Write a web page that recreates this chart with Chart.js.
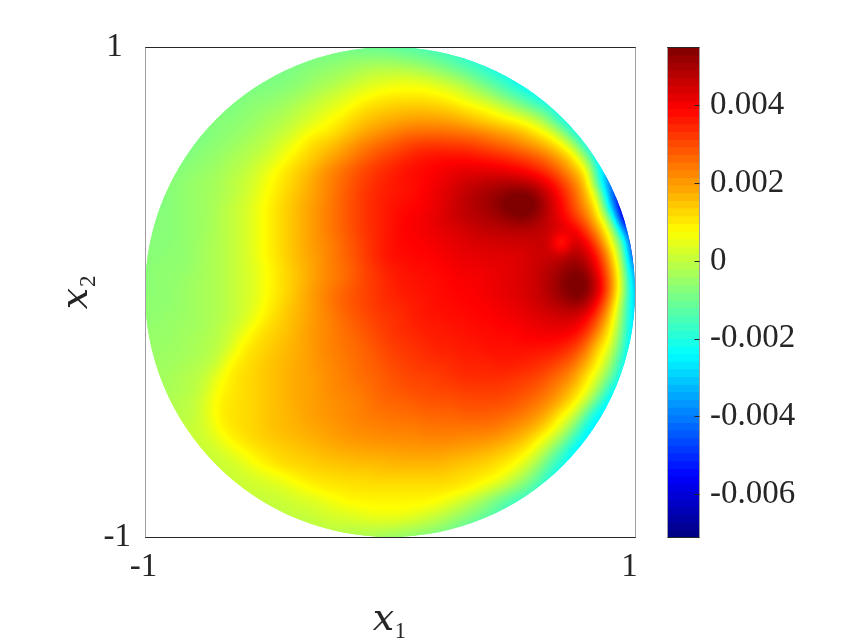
<!DOCTYPE html>
<html>
<head>
<meta charset="utf-8">
<script src="https://cdn.jsdelivr.net/npm/chart.js@4"></script>
<style>
  html, body { margin: 0; background: #fff; }
  canvas { position: absolute; top: 0; display: block; }
</style>
</head>
<body>
<canvas id="field" width="650" height="644" style="left:0"></canvas>
<canvas id="bar" width="209" height="644" style="left:650px"></canvas>
<script>
// values, unit 1e-4. each row is centred on x1 = 0, spacing 0.05
var row_p100 = [-9,-9,-9,-10,-10,-11,-11,-12,-13,-14,-15,-16,-17,-18,-19];
var row_p095 = [-9,-9,-9,-8,-8,-7,-6,-6,-6,-6,-7,-8,-10,-12,-14,-17,-19,-21,-23];
var row_p090 = [-9,-9,-9,-8,-7,-6,-5,-4,-3,-1,0,0,0,-1,-3,-5,-8,-11,-14,-18,-21,-23,-24];
var row_p085 = [-9,-9,-8,-8,-7,-6,-4,-3,-1,1,3,4,5,6,6,5,3,1,-2,-7,-11,-15,-20,-24,-26];
var row_p080 = [-9,-9,-8,-7,-7,-6,-5,-3,-1,1,3,5,7,9,10,10,10,10,9,7,4,1,-3,-8,-12,-17,-22,-25,-27];
var row_p075 = [-9,-8,-8,-7,-6,-5,-4,-2,0,2,4,6,9,12,13,14,15,15,15,14,13,11,9,7,3,-2,-7,-12,-18,-23,-26];
var row_p070 = [-9,-8,-7,-7,-6,-5,-3,-2,0,2,4,8,10,13,15,17,18,19,20,20,20,19,17,15,13,11,9,6,1,-8,-20,-24,-26];
var row_p065 = [-9,-8,-7,-6,-5,-3,-2,0,2,6,9,10,13,16,19,21,23,25,26,26,26,26,25,24,22,20,18,15,11,6,-4,-20,-26];
var row_p060 = [-9,-8,-7,-6,-5,-3,-2,0,3,6,10,13,15,18,21,24,26,28,30,32,33,33,32,32,31,29,27,25,22,19,15,9,-2,-22,-28];
var row_p055 = [-8,-8,-7,-6,-5,-3,-2,0,2,5,9,12,15,18,21,24,27,30,32,34,36,37,38,38,38,37,36,35,33,31,28,24,18,11,-6,-28,-32];
var row_p050 = [-8,-7,-6,-5,-4,-2,-1,2,5,9,12,15,18,22,25,28,31,33,35,37,38,39,40,41,42,42,42,41,40,38,35,31,25,17,9,-22,-38];
var row_p045 = [-8,-7,-6,-5,-4,-3,-1,1,3,7,10,13,16,20,23,26,29,32,34,36,37,38,39,41,43,45,46,47,48,48,47,44,39,32,24,14,-16,-45,-50];
var row_p040 = [-8,-7,-6,-5,-4,-3,-1,1,4,8,11,14,17,20,23,27,30,33,35,36,37,38,40,42,44,47,49,51,53,55,56,52,45,37,28,17,0,-40,-62];
var row_p035 = [-8,-8,-7,-6,-5,-4,-2,0,2,5,9,12,15,18,21,24,27,30,33,35,37,38,39,40,42,45,47,49,51,54,58,59,55,47,39,30,20,8,-30,-65,-74];
var row_p030 = [-8,-7,-7,-6,-5,-4,-2,0,2,5,9,12,15,18,21,24,27,30,33,35,37,39,40,41,43,45,47,48,49,51,53,54,51,46,41,34,26,12,-8,-60,-74];
var row_p025 = [-8,-7,-7,-6,-5,-4,-2,0,2,5,9,12,15,18,21,24,27,30,33,35,37,39,40,41,42,43,44,46,47,47,48,48,47,46,44,42,33,20,4,-32,-68];
var row_p020 = [-7,-7,-7,-6,-5,-3,-2,0,2,5,9,12,15,18,21,23,26,29,32,35,37,39,39,40,41,42,43,44,44,45,45,45,46,46,28,47,41,28,9,-12,-60];
var row_p015 = [-7,-7,-6,-6,-5,-3,-2,0,2,5,9,12,15,18,20,23,26,29,32,35,38,38,39,39,40,41,42,42,43,43,43,44,45,46,46,50,46,36,17,-8,-54];
var row_p010 = [-7,-6,-6,-6,-5,-3,-2,0,2,4,8,11,14,17,20,23,25,28,31,34,36,37,38,38,39,40,41,41,42,42,43,44,46,48,51,54,51,39,22,-2,-44];
var row_p005 = [-7,-6,-6,-5,-4,-3,-2,0,2,4,8,11,14,17,20,23,25,28,31,33,35,37,37,38,38,39,40,40,41,42,43,44,46,49,53,57,56,44,25,0,-38];
var row_000 = [-7,-6,-6,-5,-4,-3,-2,0,2,4,8,11,14,18,21,24,27,29,31,33,35,36,37,37,38,39,39,40,41,42,43,44,46,49,53,57,56,44,25,0,-35];
var row_m005 = [-6,-6,-6,-5,-4,-3,-2,0,2,4,9,12,15,18,21,24,27,29,31,33,34,35,36,37,38,38,39,39,40,41,42,43,45,47,49,52,49,37,20,-6,-33];
var row_m010 = [-6,-6,-5,-5,-4,-3,-2,0,2,6,10,13,16,18,21,23,26,28,30,32,33,34,36,37,37,38,38,39,39,40,41,42,43,44,45,45,41,31,14,-8,-32];
var row_m015 = [-6,-5,-5,-4,-4,-3,-1,1,4,9,12,14,16,19,21,23,25,27,29,31,33,34,35,36,36,37,37,38,38,39,39,40,41,42,42,41,36,24,10,-11,-31];
var row_m020 = [-5,-5,-5,-4,-3,-2,-1,2,8,11,13,15,17,19,21,23,25,26,28,30,32,33,34,35,36,36,37,37,38,38,38,39,39,39,38,36,29,17,6,-14,-30];
var row_m025 = [-5,-5,-4,-4,-3,-2,0,5,10,12,14,16,17,19,21,23,24,26,27,29,31,32,33,34,35,35,36,36,37,37,37,37,36,36,34,30,23,11,1,-18,-30];
var row_m030 = [-4,-4,-4,-3,-2,-1,2,9,11,13,15,16,18,19,21,22,24,25,27,28,30,31,32,33,33,34,35,35,35,36,36,35,34,32,29,25,17,8,-5,-22,-29];
var row_m035 = [-4,-4,-3,-2,-1,1,6,10,12,13,15,16,18,19,20,22,23,25,26,27,29,30,31,31,32,33,34,34,34,34,33,32,31,28,25,20,11,2,-11,-25,-28];
var row_m040 = [-3,-3,-2,-1,2,8,10,12,13,15,16,18,19,20,22,23,24,25,27,28,29,30,30,31,31,32,32,32,32,31,30,28,25,21,15,8,-4,-22,-28];
var row_m045 = [-3,-2,-1,0,4,9,11,12,13,15,16,18,19,20,21,22,23,24,26,27,27,28,29,29,29,30,30,30,30,29,27,25,22,17,10,0,-15,-27,-28];
var row_m050 = [-2,-1,0,4,9,11,12,13,15,16,17,19,20,21,22,23,24,25,25,26,26,27,27,27,28,28,28,27,26,24,21,17,9,3,-12,-26,-28];
var row_m055 = [-1,0,1,3,8,11,12,13,15,16,17,18,19,20,21,22,23,23,24,24,24,25,25,25,25,25,25,24,22,20,17,11,4,-7,-22,-28,-28];
var row_m060 = [1,1,2,5,9,11,13,14,15,16,17,18,19,20,21,21,22,22,22,22,23,23,23,22,22,21,20,18,15,10,4,-5,-17,-26,-28];
var row_m065 = [1,1,2,5,8,10,12,13,14,15,16,17,18,18,19,19,19,20,20,20,20,19,19,18,17,15,13,10,4,-5,-15,-25,-28];
var row_m070 = [1,1,1,2,4,8,10,12,13,13,14,15,15,16,16,16,17,17,17,17,17,16,15,14,13,11,9,4,-3,-13,-20,-26,-28];
var row_m075 = [1,1,1,2,3,5,7,9,11,12,12,13,13,13,14,14,14,14,14,14,13,12,11,10,8,3,-3,-10,-18,-24,-26];
var row_m080 = [0,1,1,2,2,3,5,7,9,10,10,11,11,11,11,11,11,11,11,11,10,8,4,0,-5,-10,-16,-21,-24];
var row_m085 = [0,0,1,1,2,3,4,6,8,9,9,9,9,9,9,9,8,5,2,-2,-6,-11,-15,-18,-21];
var row_m090 = [-1,-1,0,1,1,2,3,4,5,6,7,7,7,6,4,2,-1,-4,-7,-11,-14,-17,-19];
var row_m095 = [-2,-1,-1,0,1,1,1,2,2,2,1,0,-2,-4,-7,-10,-13,-15,-17];
var row_m100 = [-2,-2,-2,-2,-3,-3,-4,-5,-6,-7,-8,-10,-12,-13,-15];

var fieldRows = [
  row_p100, row_p095, row_p090, row_p085, row_p080, row_p075, row_p070, row_p065, row_p060, row_p055, row_p050,
  row_p045, row_p040, row_p035, row_p030, row_p025, row_p020, row_p015, row_p010, row_p005, row_000,
  row_m005, row_m010, row_m015, row_m020, row_m025, row_m030, row_m035, row_m040, row_m045, row_m050,
  row_m055, row_m060, row_m065, row_m070, row_m075, row_m080, row_m085, row_m090, row_m095, row_m100
];
var fieldUnit = 1e-4;
var cellStep = 0.05;

var colorMin = -0.0071;
var colorMax = 0.0055;
var barTicks = [-0.006, -0.004, -0.002, 0, 0.002, 0.004];
var barTickLabels = ['-0.006', '-0.004', '-0.002', '0', '0.002', '0.004'];
var axisTicks = [-1, 1];
var xTickLabels = ['-1', '1 '];
var yTickLabels = ['-1', '1 '];

var serif = "'Liberation Serif', 'DejaVu Serif', serif";
var inkColor = '#262626';

function jet(t) {
  t = Math.max(0, Math.min(1, t));
  function ch(c) { return Math.round(255 * Math.max(0, Math.min(1, 1.5 - Math.abs(4 * t - c)))); }
  return [ch(3), ch(2), ch(1)];
}
function valueColor(v) {
  var c = jet((v - colorMin) / (colorMax - colorMin));
  return 'rgb(' + c[0] + ',' + c[1] + ',' + c[2] + ')';
}

// one point per read value
var cellPoints = [];
fieldRows.forEach(function (row, j) {
  var half = (row.length - 1) / 2;
  row.forEach(function (v, i) {
    cellPoints.push({ x: (i - half) * cellStep, y: 1 - j * cellStep, v: v * fieldUnit });
  });
});

function cellAt(i, j) {
  j = Math.max(0, Math.min(fieldRows.length - 1, j));
  var row = fieldRows[j];
  var half = (row.length - 1) / 2;
  var k = Math.max(-half, Math.min(half, i)) + half;
  return row[k];
}
// cubic b-spline, evens out the rounding in the read values
function spline(a, b, c, d, t) {
  var t2 = t * t, t3 = t2 * t, u = 1 - t;
  return (u * u * u * a + (3 * t3 - 6 * t2 + 4) * b + (-3 * t3 + 3 * t2 + 3 * t + 1) * c + t3 * d) / 6;
}
// shade between the cells like shading interp does
function shadeAt(x, y) {
  var gx = x / cellStep, gy = (1 - y) / cellStep;
  var i = Math.floor(gx), j = Math.floor(gy);
  var tx = gx - i, ty = gy - j;
  var rows = [];
  for (var m = -1; m <= 2; m++) {
    rows.push(spline(cellAt(i - 1, j + m), cellAt(i, j + m), cellAt(i + 1, j + m), cellAt(i + 2, j + m), tx));
  }
  return spline(rows[0], rows[1], rows[2], rows[3], ty) * fieldUnit;
}

function discPath(chart, ctx) {
  var xs = chart.scales.x, ys = chart.scales.y;
  var cx = xs.getPixelForValue(0), cy = ys.getPixelForValue(0);
  ctx.beginPath();
  ctx.arc(cx, cy, xs.getPixelForValue(1) - cx, 0, Math.PI * 2);
}

var discShader = {
  id: 'discShader',
  beforeDatasetsDraw: function (chart) {
    chart.ctx.save();
    discPath(chart, chart.ctx);
    chart.ctx.clip();
  },
  afterDatasetsDraw: function (chart) {
    var ctx = chart.ctx, area = chart.chartArea;
    var xs = chart.scales.x, ys = chart.scales.y;
    var w = Math.round(area.right - area.left), h = Math.round(area.bottom - area.top);
    var off = document.createElement('canvas');
    off.width = w; off.height = h;
    var octx = off.getContext('2d');
    var img = octx.createImageData(w, h);
    for (var py = 0; py < h; py++) {
      var y = ys.getValueForPixel(area.top + py + 0.5);
      for (var px = 0; px < w; px++) {
        var x = xs.getValueForPixel(area.left + px + 0.5);
        var c = jet((shadeAt(x, y) - colorMin) / (colorMax - colorMin));
        var o = (py * w + px) * 4;
        img.data[o] = c[0]; img.data[o + 1] = c[1]; img.data[o + 2] = c[2]; img.data[o + 3] = 255;
      }
    }
    octx.putImageData(img, 0, 0);
    ctx.drawImage(off, area.left, area.top);
    ctx.restore();
  }
};

function boxFrame(tickLen, alongX) {
  return {
    id: 'boxFrame',
    afterDraw: function (chart) {
      var ctx = chart.ctx, a = chart.chartArea;
      var l = Math.round(a.left) + 0.5, r = Math.round(a.right) + 0.5;
      var t = Math.round(a.top) + 0.5, b = Math.round(a.bottom) + 0.5;
      ctx.save();
      ctx.lineWidth = 1;
      ctx.strokeStyle = '#a0a0a0';
      ctx.beginPath();
      ctx.moveTo(l, t); ctx.lineTo(l, b);
      ctx.moveTo(r, t); ctx.lineTo(r, b);
      ctx.stroke();
      ctx.strokeStyle = inkColor;
      ctx.beginPath();
      ctx.moveTo(l, t); ctx.lineTo(r, t);
      ctx.moveTo(l, b); ctx.lineTo(r, b);
      if (alongX) {
        chart.scales.y.ticks.forEach(function (tk) {
          var p = Math.round(chart.scales.y.getPixelForValue(tk.value)) + 0.5;
          ctx.moveTo(l, p); ctx.lineTo(l + tickLen, p);
          ctx.moveTo(r, p); ctx.lineTo(r - tickLen, p);
        });
      } else {
        chart.scales.y.ticks.forEach(function (tk) {
          var p = Math.round(chart.scales.y.getPixelForValue(tk.value)) + 0.5;
          ctx.moveTo(r, p); ctx.lineTo(r - tickLen, p);
        });
      }
      ctx.stroke();
      ctx.restore();
    }
  };
}

new Chart(document.getElementById('field'), {
  type: 'scatter',
  data: {
    datasets: [{
      data: cellPoints,
      pointStyle: 'rect',
      pointRadius: 8.8,
      pointBorderWidth: 0,
      pointBackgroundColor: cellPoints.map(function (p) { return valueColor(p.v); })
    }]
  },
  plugins: [discShader, boxFrame(5, true)],
  options: {
    responsive: false,
    animation: false,
    events: [],
    layout: { padding: { top: 47, right: 15, left: 0, bottom: 0 } },
    plugins: { legend: { display: false }, tooltip: { enabled: false } },
    scales: {
      x: {
        type: 'linear', min: -1, max: 1,
        grid: { display: false },
        border: { display: false },
        afterBuildTicks: function (s) { s.ticks = axisTicks.map(function (v) { return { value: v }; }); },
        afterFit: function (s) { s.height = 107; s.paddingLeft = 0; s.paddingRight = 0; },
        ticks: {
          autoSkip: false, maxRotation: 0, padding: 3, labelOffset: -1.5,
          color: inkColor, font: { family: serif, size: 33 },
          callback: function (v, i) { return xTickLabels[i]; }
        },
        title: {
          display: true, text: '\uD835\uDC65\u2081', color: inkColor,
          font: { family: serif, size: 38 },
          padding: { top: 0, bottom: 1 }
        }
      },
      y: {
        type: 'linear', min: -1, max: 1,
        grid: { display: false },
        border: { display: false },
        afterBuildTicks: function (s) { s.ticks = axisTicks.map(function (v) { return { value: v }; }); },
        afterFit: function (s) { s.width = 145; s.paddingTop = 0; s.paddingBottom = 0; },
        ticks: {
          autoSkip: false, padding: 6,
          color: inkColor, font: { family: serif, size: 33 },
          callback: function (v, i) { return yTickLabels[i]; }
        },
        title: {
          display: true, text: '\uD835\uDC65\u2082', color: inkColor,
          font: { family: serif, size: 38 },
          padding: { top: 54, bottom: 0 }
        }
      }
    }
  }
});

// colorbar, 64 jet bands
var bandCount = 64;
var bandLevels = [];
var bandColors = [];
for (var k = 0; k < bandCount; k++) {
  var lvl = colorMin + (k + 0.5) * (colorMax - colorMin) / bandCount;
  bandLevels.push({ x: 1, y: lvl });
  bandColors.push(valueColor(lvl));
}

new Chart(document.getElementById('bar'), {
  type: 'bar',
  data: {
    datasets: [{
      data: bandLevels,
      backgroundColor: bandColors,
      borderWidth: 0,
      barThickness: 8.6
    }]
  },
  plugins: [boxFrame(5, false)],
  options: {
    indexAxis: 'y',
    responsive: false,
    animation: false,
    events: [],
    layout: { padding: { top: 47, left: 17, right: 0, bottom: 107 } },
    plugins: { legend: { display: false }, tooltip: { enabled: false } },
    scales: {
      x: { type: 'linear', min: 0, max: 1, display: false },
      y: {
        type: 'linear', position: 'right', min: colorMin, max: colorMax, offset: false,
        grid: { display: false },
        border: { display: false },
        afterBuildTicks: function (s) { s.ticks = barTicks.map(function (v) { return { value: v }; }); },
        afterFit: function (s) { s.width = 160; s.paddingTop = 0; s.paddingBottom = 0; },
        ticks: {
          autoSkip: false, padding: 3,
          color: inkColor, font: { family: serif, size: 33 },
          callback: function (v, i) { return barTickLabels[i]; }
        }
      }
    }
  }
});
</script>
</body>
</html>
